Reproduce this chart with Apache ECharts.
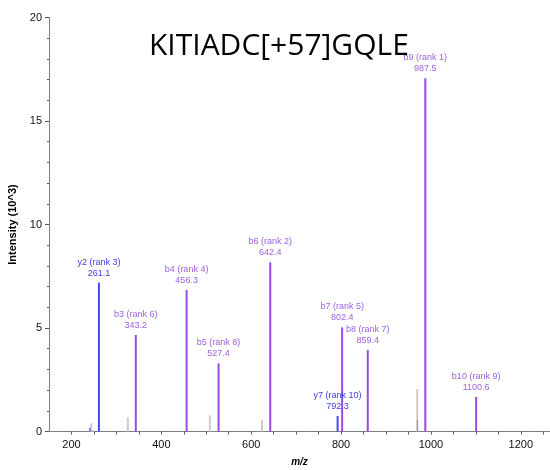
<!DOCTYPE html>
<html>
<head>
<meta charset="utf-8">
<script src="https://cdn.jsdelivr.net/npm/echarts@6/dist/echarts.min.js"></script>
<style>html,body{margin:0;padding:0;background:#fff;}#c{width:550px;height:470px;}</style>
</head>
<body>
<div id="c"></div>
<script>
var titleText = 'KITIADC[+57]GQLE';
var ionNames = ['y2', 'b3', 'b4', 'b5', 'b6', 'y7', 'b7', 'b8', 'b9', 'b10'];
var ionRanks = [3, 6, 4, 8, 2, 10, 5, 7, 1, 9];
var ionMz = [261.1, 343.2, 456.3, 527.4, 642.4, 792.3, 802.4, 859.4, 987.5, 1100.6];
var ionIntensity = [7.19, 4.66, 6.84, 3.29, 8.17, 0.75, 5.03, 3.94, 17.06, 1.67];
var smallIonMz = [241.5];
var smallIonIntensity = [0.18];
var noiseMz = [244, 248, 325.4, 508, 624, 969.5];
var noiseIntensity = [0.40, 0.08, 0.69, 0.78, 0.56, 2.05];
var darkNoiseMz = [971];
var darkNoiseIntensity = [0.55];
var xLabelValues = [200, 400, 600, 800, 1000, 1200];

var BLUE = '#4747ef', BLUE_LABEL = '#3b3be6', PURPLE = '#9a48e6', PURPLE_LABEL = '#a061e3';

function ionColor(n) { return n.charAt(0) === 'y' ? BLUE : PURPLE; }
function ionLabelColor(n) { return n.charAt(0) === 'y' ? BLUE_LABEL : PURPLE_LABEL; }

var ionData = ionMz.map(function (mz, i) {
  var n = ionNames[i];
  return {
    value: [mz, ionIntensity[i]],
    itemStyle: { color: ionColor(n) },
    label: {
      show: true,
      position: 'top',
      distance: 4,
      color: ionLabelColor(n),
      fontFamily: 'Liberation Sans, Arial, sans-serif',
      fontSize: 9,
      lineHeight: 11,
      align: 'center',
      formatter: n + ' (rank ' + ionRanks[i] + ')\n' + mz.toFixed(1)
    }
  };
});
var smallData = smallIonMz.map(function (m, i) { return [m, smallIonIntensity[i]]; });
var noiseData = noiseMz.map(function (m, i) { return [m, noiseIntensity[i]]; });
var darkNoiseData = darkNoiseMz.map(function (m, i) { return [m, darkNoiseIntensity[i]]; });

var chart = echarts.init(document.getElementById('c'), null, { renderer: 'canvas' });
var AX = '#7f7f7f';
chart.setOption({
  animation: false,
  backgroundColor: '#fff',
  title: {
    text: titleText,
    left: 144,
    top: 24,
    textStyle: { fontFamily: 'Open Sans', fontSize: 30, fontWeight: 'normal', color: '#000', lineHeight: 34 }
  },
  grid: { left: 49, right: 0, top: 17.5, bottom: 38.5, containLabel: false, outerBoundsMode: 'none' },
  xAxis: {
    type: 'value',
    min: 150,
    max: 1265,
    interval: 50,
    name: 'm/z',
    nameLocation: 'middle',
    nameGap: 26,
    nameTextStyle: { fontFamily: 'Liberation Sans, Arial', fontSize: 10, fontStyle: 'italic', fontWeight: 'bold', color: '#000' },
    axisLine: { show: true, onZero: false, lineStyle: { color: AX, width: 1 } },
    axisTick: { show: true, length: 3, lineStyle: { color: '#555' } },
    axisLabel: {
      fontFamily: 'Liberation Sans, Arial', fontSize: 11, color: '#111', margin: 8,
      showMinLabel: false, showMaxLabel: false,
      formatter: function (v) { return xLabelValues.indexOf(v) >= 0 ? String(v) : ''; }
    },
    splitLine: { show: false }
  },
  yAxis: {
    type: 'value',
    min: 0,
    max: 20,
    interval: 5,
    name: 'Intensity (10^3)',
    nameLocation: 'middle',
    nameGap: 31,
    nameTextStyle: { fontFamily: 'Liberation Sans, Arial', fontSize: 11, fontWeight: 'bold', color: '#000' },
    axisLine: { show: true, lineStyle: { color: AX, width: 1 } },
    axisTick: { show: true, length: 4, lineStyle: { color: '#555' } },
    minorTick: { show: true, splitNumber: 5, length: 2, lineStyle: { color: '#555' } },
    axisLabel: { fontFamily: 'Liberation Sans, Arial', fontSize: 11, color: '#111', margin: 7 },
    splitLine: { show: false }
  },
  series: [
    { type: 'bar', data: noiseData, barWidth: 2, barGap: '-100%', itemStyle: { color: '#cccccc' }, z: 1 },
    { type: 'bar', data: darkNoiseData, barWidth: 1, barGap: '-100%', itemStyle: { color: '#8c8c8c' }, z: 2 },
    { type: 'bar', data: smallData, barWidth: 1.5, barGap: '-100%', itemStyle: { color: PURPLE }, z: 3 },
    { type: 'bar', data: ionData, barWidth: 2, barGap: '-100%', z: 4 }
  ]
});
</script>
</body>
</html>
